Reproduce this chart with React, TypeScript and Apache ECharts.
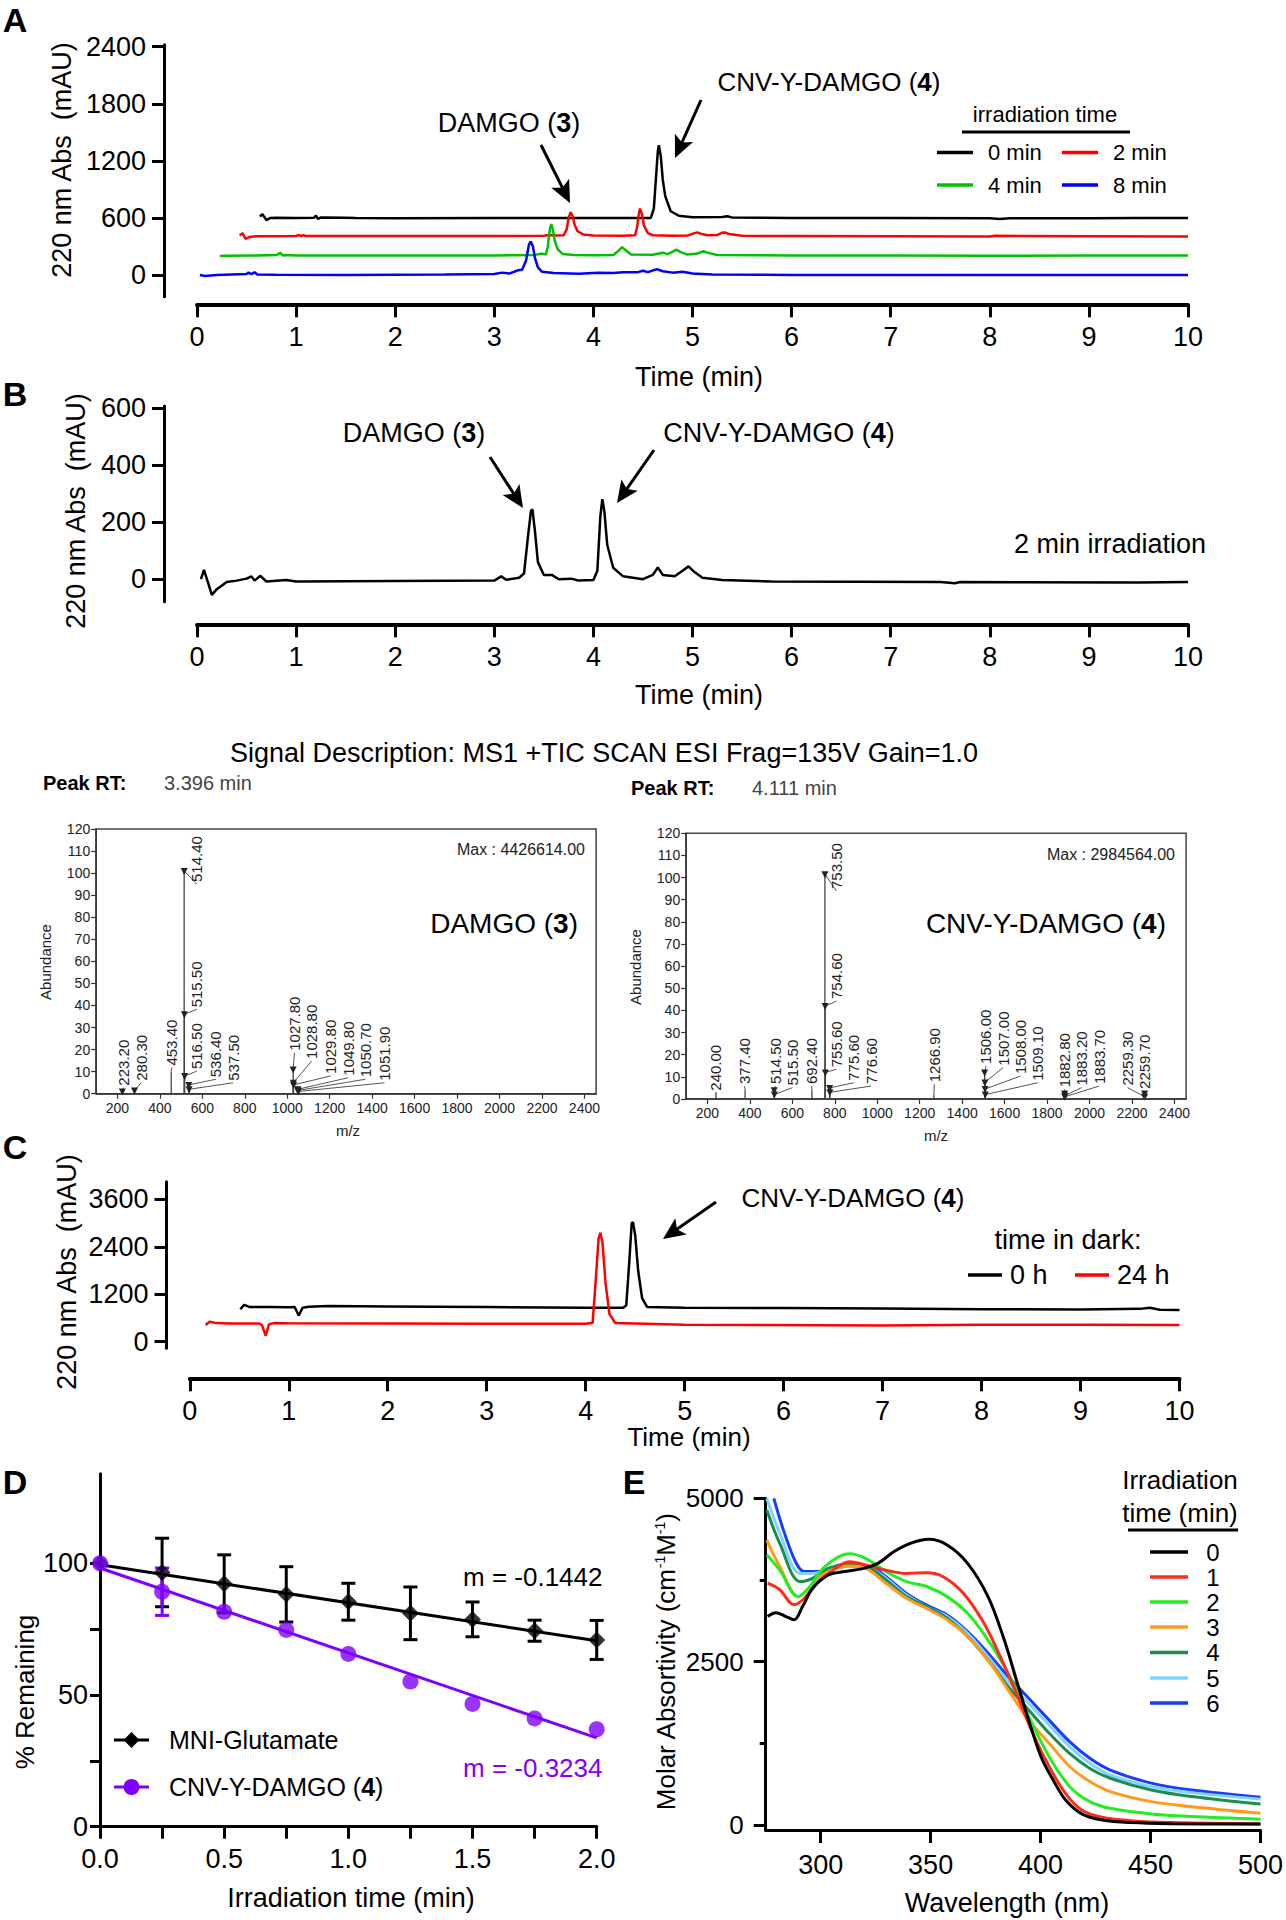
import React, { useEffect, useRef } from 'react';
import * as echarts from 'echarts';

const FONT = '"Liberation Sans", Arial, Helvetica, sans-serif';
const plain = (v: number) => String(v);

// ---------------- Panel A : HPLC, irradiation series (time min, mAU) ----------------
const aYTicks = [0, 600, 1200, 1800, 2400];
const aLegendNames = ['0 min', '2 min', '4 min', '8 min'];
const aColors = ['#000000', '#ff0000', '#00c000', '#0000ff'];
const aTrace0 = [[0.635, 615], [0.66, 640], [0.7, 578], [0.74, 600], [0.8, 602], [1.0, 600], [1.18, 602], [1.2, 625], [1.22, 590], [1.25, 605], [1.5, 602], [1.6, 598], [2.0, 597], [3.0, 598], [4.0, 598], [4.58, 600], [4.61, 700], [4.63, 1000], [4.65, 1300], [4.66, 1365], [4.68, 1250], [4.7, 1000], [4.725, 830], [4.78, 670], [4.86, 624], [5.0, 608], [5.3, 610], [5.35, 618], [5.4, 605], [6.0, 600], [7.0, 598], [8.0, 596], [8.1, 590], [8.2, 597], [9.0, 596], [9.5, 598], [10.0, 598]];
const aTrace2 = [[0.43, 415], [0.46, 440], [0.49, 380], [0.53, 400], [0.6, 408], [1.0, 410], [1.03, 420], [1.05, 408], [1.07, 418], [1.1, 410], [2.0, 410], [3.0, 410], [3.5, 412], [3.55, 420], [3.6, 415], [3.7, 418], [3.73, 480], [3.75, 600], [3.77, 660], [3.79, 620], [3.81, 530], [3.84, 460], [3.9, 425], [4.0, 415], [4.3, 412], [4.42, 418], [4.44, 500], [4.46, 650], [4.47, 698], [4.49, 640], [4.51, 520], [4.55, 440], [4.6, 418], [4.8, 412], [4.95, 415], [5.02, 440], [5.05, 448], [5.08, 435], [5.15, 418], [5.25, 420], [5.3, 445], [5.33, 448], [5.37, 430], [5.5, 412], [6.0, 410], [7.0, 408], [8.0, 405], [8.05, 412], [9.0, 408], [10.0, 405]];
const aTrace4 = [[0.23, 200], [0.3, 203], [0.6, 205], [0.8, 210], [0.84, 232], [0.87, 205], [0.9, 210], [1.0, 205], [2.0, 205], [3.0, 205], [3.4, 210], [3.48, 225], [3.52, 215], [3.54, 300], [3.56, 480], [3.575, 536], [3.59, 480], [3.61, 360], [3.64, 270], [3.69, 222], [3.8, 210], [4.0, 208], [4.2, 210], [4.26, 260], [4.29, 294], [4.32, 265], [4.38, 215], [4.6, 212], [4.7, 235], [4.75, 220], [4.81, 250], [4.84, 266], [4.88, 240], [4.95, 215], [5.05, 225], [5.11, 250], [5.15, 235], [5.25, 210], [6.0, 205], [7.0, 204], [8.0, 203], [9.0, 205], [10.0, 205]];
const aTrace8 = [[0.03, 0], [0.08, -10], [0.2, 0], [0.5, 10], [0.52, 25], [0.55, 10], [0.58, 28], [0.61, 5], [0.8, 2], [1.5, 0], [2.5, 5], [3.0, 10], [3.08, 25], [3.15, 15], [3.24, 50], [3.28, 55], [3.32, 150], [3.35, 320], [3.367, 353], [3.39, 300], [3.41, 180], [3.44, 80], [3.48, 35], [3.6, 20], [3.85, 12], [4.05, 25], [4.2, 20], [4.3, 28], [4.45, 30], [4.5, 45], [4.55, 30], [4.64, 62], [4.7, 40], [4.8, 25], [4.9, 35], [5.0, 15], [5.2, 5], [6.0, 0], [8.0, 0], [10.0, 0]];

// ---------------- Panel B : HPLC, 2 min irradiation ----------------
const bYTicks = [0, 200, 400, 600];
const bTrace = [[0.04, 0], [0.07, 33], [0.1, 0], [0.15, -55], [0.2, -35], [0.3, -10], [0.4, -5], [0.5, 2], [0.55, 10], [0.58, -5], [0.64, 12], [0.7, -8], [0.9, -3], [1.0, -8], [2.0, -6], [3.0, -5], [3.07, 10], [3.12, -2], [3.25, 5], [3.3, 20], [3.34, 150], [3.37, 240], [3.385, 245], [3.41, 170], [3.44, 60], [3.5, 15], [3.58, 15], [3.65, 0], [3.78, 2], [3.85, -5], [4.0, -3], [4.04, 30], [4.07, 220], [4.09, 281], [4.11, 240], [4.14, 120], [4.2, 40], [4.3, 10], [4.5, 0], [4.6, 15], [4.65, 41], [4.7, 15], [4.82, 10], [4.9, 30], [4.96, 45], [5.02, 25], [5.1, 5], [5.3, -3], [5.8, -8], [7.5, -10], [7.65, -14], [7.7, -10], [9.5, -12], [10.0, -10]];

// ---------------- MS spectra ----------------
const msXTicks = [200, 400, 600, 800, 1000, 1200, 1400, 1600, 1800, 2000, 2200, 2400];
const msLeftMz = [223.2, 280.3, 453.4, 514.4, 515.5, 516.5, 536.4, 537.5, 1027.8, 1028.8, 1029.8, 1049.8, 1050.7, 1051.9];
const msLeftAb = [1, 1.5, 10, 101, 36, 8, 4, 2, 11, 5, 4, 2, 1.5, 1];
const msLeftMarked = [1, 1, 0, 1, 1, 1, 1, 1, 1, 1, 1, 1, 1, 1];
const msLeftLabelMz = [228, 312, 456, 574, 574, 574, 664, 745, 1034, 1115, 1205, 1287, 1368, 1458];
const msLeftLabelAb = [3.2, 5.4, 12.3, 95.5, 38.7, 10.7, 7, 5.4, 19, 15.3, 8.5, 7.7, 7, 5.4];
const msRightMz = [240.0, 377.4, 514.5, 515.5, 692.4, 753.5, 754.6, 755.6, 775.6, 776.6, 1266.9, 1506.0, 1507.0, 1508.0, 1509.1, 1882.8, 1883.2, 1883.7, 2259.3, 2259.7];
const msRightAb = [3, 4, 4, 2, 4, 101.5, 42, 12, 5, 3, 1.8, 12, 7.5, 4.5, 2, 2.5, 1.5, 1, 1, 2.5];
const msRightMarked = [0, 0, 1, 1, 0, 1, 1, 1, 1, 1, 0, 1, 1, 1, 1, 1, 1, 1, 1, 1];
const msRightLabelMz = [240, 375, 520, 601, 691, 808, 808, 808, 890, 971, 1269, 1512, 1593, 1675, 1756, 1882, 1963, 2045, 2180, 2261];
const msRightLabelAb = [3.3, 6.3, 6.3, 5.6, 6.3, 94.4, 44.7, 13.9, 7.8, 6.3, 7.1, 15.4, 14.6, 10.8, 7.8, 4.8, 5.6, 6.3, 5.6, 4.1];

// ---------------- Panel C : stability in dark ----------------
const cYTicks = [0, 1200, 2400, 3600];
const cLegendNames = ['0 h', '24 h'];
const cColors = ['#000000', '#ff0000'];
const cTrace0h = [[0.51, 820], [0.55, 930], [0.6, 880], [0.8, 875], [1.0, 870], [1.06, 880], [1.1, 660], [1.14, 860], [1.2, 885], [1.4, 900], [2.0, 890], [3.0, 875], [4.0, 860], [4.38, 860], [4.41, 920], [4.44, 2000], [4.465, 3000], [4.478, 3020], [4.5, 2700], [4.53, 1800], [4.57, 1100], [4.62, 880], [5.0, 860], [6.0, 850], [7.0, 840], [8.0, 820], [9.0, 815], [9.6, 830], [9.7, 860], [9.8, 810], [10.0, 800]];
const cTrace24h = [[0.16, 422], [0.2, 506], [0.27, 470], [0.4, 462], [0.7, 460], [0.73, 420], [0.766, 152], [0.8, 440], [0.85, 470], [1.0, 465], [2.0, 460], [3.0, 455], [4.0, 455], [4.07, 480], [4.1, 1500], [4.13, 2600], [4.149, 2757], [4.17, 2500], [4.2, 1500], [4.24, 700], [4.3, 470], [5.0, 430], [7.0, 410], [8.0, 430], [9.0, 430], [10.0, 420]];

// ---------------- Panel D : photolysis kinetics ----------------
const dTimes = [0, 0.25, 0.5, 0.75, 1.0, 1.25, 1.5, 1.75, 2.0];
const dMni = [100, 96.5, 92.2, 88.2, 85.4, 81, 78.7, 74.4, 70.9];
const dMniSd = [0, 13, 11, 10.5, 7, 10, 6.6, 4, 7.4];
const dCnv = [100, 89.2, 81.6, 74.7, 65.6, 55.1, 46.6, 41.1, 37];
const dCnvSd = [0, 9, 0, 0, 0, 0, 0, 0, 0];
const dMniFit = [[0, 99.4], [2, 70.6]];
const dCnvFit = [[0, 98.2], [2, 33.7]];
const dXTicks = [0, 0.25, 0.5, 0.75, 1.0, 1.25, 1.5, 1.75, 2.0];
const dXLabels = [0, 0.5, 1.0, 1.5, 2.0];
const dYTicks = [0, 25, 50, 75, 100];
const dYLabels = [0, 50, 100];
const dNames = ['MNI-Glutamate', 'CNV-Y-DAMGO (4)'];
const dColors = ['#000000', '#8000ff'];

// ---------------- Panel E : UV-vis spectra ----------------
const eXTicks = [300, 350, 400, 450, 500];
const eYTicks = [0, 2500, 5000];
const eYMinorTicks = [1250, 3750];
const eTimes = ['0', '1', '2', '3', '4', '5', '6'];
const eColors = ['#000000', '#ff2a1a', '#22ee22', '#ff9a1a', '#1e8c50', '#7fd4ff', '#1a3cff'];
const e0 = [[275.9, 3190], [279.6, 3250], [284.2, 3190], [287.9, 3140], [291.7, 3340], [296.3, 3620], [303.7, 3830], [311.1, 3880], [318.6, 3920], [326, 4005], [333.4, 4185], [340.8, 4310], [349.2, 4372], [357.5, 4285], [366.8, 4005], [376.1, 3495], [383.5, 2830], [389, 2220], [394.6, 1605], [400.2, 1045], [405.7, 690], [411.3, 385], [418.7, 170], [428, 77], [441, 36], [459.5, 20], [500, 15]];
const e1 = [[275.9, 3700], [281.4, 3600], [287.9, 3370], [292.6, 3470], [298.1, 3700], [305.6, 3900], [313, 4030], [320.4, 3980], [329.7, 3900], [339, 3850], [348.2, 3860], [355.7, 3800], [364.9, 3545], [374.2, 3090], [381.6, 2580], [389, 2015], [396.5, 1400], [403.9, 895], [411.3, 485], [418.7, 230], [428, 117], [441, 66], [459.5, 36], [500, 15]];
const e2 = [[275.5, 4135], [281.4, 3900], [289.8, 3495], [294.4, 3620], [301.9, 3955], [313, 4150], [320.4, 4080], [329.7, 3880], [339, 3725], [348.2, 3650], [357.5, 3495], [366.8, 3240], [376.1, 2830], [385.3, 2320], [394.6, 1660], [403.9, 1045], [413.2, 590], [422.4, 357], [431.7, 255], [450.3, 168], [468.8, 128], [500, 87]];
const e3 = [[275.5, 4360], [281.4, 3955], [289.8, 3495], [294.4, 3620], [301.9, 3850], [313, 3965], [320.4, 3930], [329.7, 3700], [339, 3470], [348.2, 3315], [357.5, 3140], [366.8, 2885], [376.1, 2525], [385.3, 2065], [394.6, 1605], [403.9, 1250], [413.2, 895], [422.4, 665], [431.7, 510], [450.3, 357], [468.8, 280], [500, 180]];
const e4 = [[275.5, 4820], [281.4, 4310], [290.7, 3725], [296.3, 3775], [303.7, 3930], [313, 3995], [322.3, 3930], [329.7, 3750], [339, 3495], [348.2, 3340], [357.5, 3165], [366.8, 2885], [376.1, 2525], [385.3, 2115], [394.6, 1760], [403.9, 1405], [413.2, 1095], [422.4, 865], [431.7, 715], [450.3, 535], [468.8, 435], [500, 320]];
const e5 = [[275.5, 5000], [281.4, 4465], [290.7, 3850], [296.3, 3850], [303.7, 3905], [313, 3955], [322.3, 3930], [329.7, 3775], [339, 3520], [348.2, 3340], [357.5, 3190], [366.8, 2935], [376.1, 2575], [385.3, 2195], [394.6, 1860], [403.9, 1530], [413.2, 1200], [422.4, 945], [431.7, 765], [450.3, 585], [468.8, 495], [500, 395]];
const e6 = [[278.7, 5000], [283.3, 4490], [288.9, 4005], [292.6, 3880], [300, 3880], [311.1, 3955], [322.3, 3955], [329.7, 3800], [339, 3545], [348.2, 3365], [357.5, 3215], [366.8, 2960], [376.1, 2630], [385.3, 2270], [394.6, 1940], [403.9, 1605], [413.2, 1275], [422.4, 1020], [431.7, 840], [450.3, 640], [468.8, 535], [500, 425]];

// ---------------- helpers ----------------
function T(text: string, x: number, y: number, o: any = {}) {
  const size = o.size || 27;
  return {
    type: 'text', x, y, rotation: o.rot || 0, z: 50, silent: true,
    style: {
      text, fontSize: size, fontFamily: FONT, fontWeight: o.bold ? 'bold' : 'normal',
      fill: o.color || '#000', align: o.align || 'center', verticalAlign: 'middle',
      rich: o.rich || {
        b: { fontSize: size, fontFamily: FONT, fontWeight: 'bold', fill: o.color || '#000' },
      },
    },
  };
}
function L(x1: number, y1: number, x2: number, y2: number, color = '#000', w = 3) {
  return { type: 'line', z: 50, silent: true, shape: { x1, y1, x2, y2 }, style: { stroke: color, lineWidth: w } };
}
function arrow(x1: number, y1: number, x2: number, y2: number) {
  const dx = x2 - x1, dy = y2 - y1;
  const len = Math.hypot(dx, dy);
  const ux = dx / len, uy = dy / len;
  const hl = 22, hw = 10;
  const bx = x2 - ux * hl, by = y2 - uy * hl;
  const px = -uy, py = ux;
  return [
    L(x1, y1, bx + ux * 6, by + uy * 6, '#000', 3),
    {
      type: 'polygon', z: 50, silent: true,
      shape: { points: [[x2, y2], [bx + px * hw, by + py * hw], [bx + ux * 5, by + uy * 5], [bx - px * hw, by - py * hw]] },
      style: { fill: '#000' },
    },
  ];
}

const chromX = (gridIndex: number, offset: number) => ({
  type: 'value', gridIndex, min: 0, max: 10, interval: 1, position: 'bottom', offset,
  axisLine: { show: true, onZero: false, lineStyle: { color: '#000', width: 4 } },
  axisTick: { show: true, length: 13, lineStyle: { color: '#000', width: 3 } },
  axisLabel: { fontSize: 27, fontFamily: FONT, color: '#000', margin: 19, formatter: plain },
  splitLine: { show: false },
});
const chromY = (gridIndex: number, min: number, max: number, ticks: number[], offset: number) => ({
  type: 'value', gridIndex, min, max, position: 'left', offset,
  axisLine: { show: true, onZero: false, lineStyle: { color: '#000', width: 3 } },
  axisTick: { show: true, length: 12, customValues: ticks, lineStyle: { color: '#000', width: 3 } },
  axisLabel: { customValues: ticks, fontSize: 27, fontFamily: FONT, color: '#000', margin: 18, formatter: plain },
  splitLine: { show: false },
});
const msX = (gridIndex: number) => ({
  type: 'value', gridIndex, min: 100, max: 2455, position: 'bottom',
  axisLine: { show: true, onZero: false, lineStyle: { color: '#333', width: 1.5 } },
  axisTick: { show: true, length: 5, customValues: msXTicks, lineStyle: { color: '#333', width: 1.2 } },
  axisLabel: { customValues: msXTicks, fontSize: 14, fontFamily: FONT, color: '#222', margin: 7, formatter: plain },
  splitLine: { show: false },
});
const msY = (gridIndex: number) => ({
  type: 'value', gridIndex, min: 0, max: 120, interval: 10, position: 'left',
  axisLine: { show: true, onZero: false, lineStyle: { color: '#333', width: 1.5 } },
  axisTick: { show: true, length: 5, lineStyle: { color: '#333', width: 1.2 } },
  axisLabel: { fontSize: 14, fontFamily: FONT, color: '#222', margin: 6, formatter: plain },
  splitLine: { show: false },
});

function msSeries(xi: number, mz: number[], ab: number[], lmz: number[], lab: number[], marked: number[]) {
  return {
    type: 'custom', xAxisIndex: xi, yAxisIndex: xi, clip: false, silent: true,
    encode: { x: 0, y: 1 },
    data: mz.map((m, i) => [m, ab[i], lmz[i], lab[i], marked[i]]),
    renderItem: (params: any, api: any) => {
      const m = api.value(0), a = api.value(1), lx = api.value(2), ly = api.value(3), mk = api.value(4);
      const base = api.coord([m, 0]);
      const top = api.coord([m, a]);
      const lp = api.coord([lx, ly]);
      const children: any[] = [
        { type: 'line', shape: { x1: base[0], y1: base[1], x2: top[0], y2: top[1] }, style: { stroke: '#444', lineWidth: 1.3 } },
        { type: 'line', shape: { x1: top[0], y1: top[1], x2: lp[0], y2: lp[1] + 1 }, style: { stroke: '#555', lineWidth: 1 } },
        {
          type: 'text', x: lp[0], y: lp[1] - 1, rotation: Math.PI / 2,
          style: { text: m.toFixed(2), fontSize: 15, fontFamily: FONT, fill: '#222', align: 'left', verticalAlign: 'middle' },
        },
      ];
      if (mk) {
        children.push({
          type: 'polygon',
          shape: { points: [[top[0] - 3.5, top[1] - 3], [top[0] + 3.5, top[1] - 3], [top[0], top[1] + 4]] },
          style: { fill: '#222' },
        });
      }
      return { type: 'group', children };
    },
  };
}

function errSeries(mean: number[], sd: number[], color: string) {
  return {
    type: 'custom', xAxisIndex: 5, yAxisIndex: 5, silent: true, z: 3,
    encode: { x: 0, y: [1, 2] },
    data: dTimes.map((t, i) => [t, mean[i] - sd[i], mean[i] + sd[i], sd[i]]),
    renderItem: (params: any, api: any) => {
      if (!api.value(3)) return { type: 'group', children: [] };
      const x = api.value(0);
      const lo = api.coord([x, api.value(1)]);
      const hi = api.coord([x, api.value(2)]);
      const w = 7;
      const st = { stroke: color, lineWidth: 3 };
      return {
        type: 'group',
        children: [
          { type: 'line', shape: { x1: hi[0], y1: hi[1], x2: lo[0], y2: lo[1] }, style: st },
          { type: 'line', shape: { x1: hi[0] - w, y1: hi[1], x2: hi[0] + w, y2: hi[1] }, style: st },
          { type: 'line', shape: { x1: lo[0] - w, y1: lo[1], x2: lo[0] + w, y2: lo[1] }, style: st },
        ],
      };
    },
  };
}

function buildOption() {
  const gfx: any[] = [];
  // panel letters
  [['A', 15, 20], ['B', 15, 394], ['C', 15, 1147], ['D', 15, 1482], ['E', 634, 1482]].forEach(([s, x, y]: any) =>
    gfx.push(T(s, x, y, { size: 34, bold: true })));

  // ---- A ----
  gfx.push(T('220 nm Abs  (mAU)', 62, 160, { rot: Math.PI / 2, size: 27 }));
  gfx.push(T('Time (min)', 699, 377, { size: 27 }));
  gfx.push(T('DAMGO ({b|3})', 509, 123, { size: 27 }));
  gfx.push(...arrow(541, 145, 570, 203));
  gfx.push(T('CNV-Y-DAMGO ({b|4})', 829, 82, { size: 26 }));
  gfx.push(...arrow(701, 100, 675, 158));
  gfx.push(T('irradiation time', 1045, 114, { size: 22 }));
  gfx.push(L(962, 132, 1130, 132, '#000', 3));
  const aLegPos = [[937, 152.5], [1062, 152.5], [937, 185], [1062, 185]];
  aLegendNames.forEach((n, i) => {
    const [x, y] = aLegPos[i];
    gfx.push(L(x, y, x + 36, y, aColors[i], 3.5));
    gfx.push(T(n, x + 51, y, { size: 22, align: 'left' }));
  });

  // ---- B ----
  gfx.push(T('220 nm Abs  (mAU)', 76, 511, { rot: Math.PI / 2, size: 27 }));
  gfx.push(T('Time (min)', 699, 695, { size: 27 }));
  gfx.push(T('DAMGO ({b|3})', 414, 433, { size: 27 }));
  gfx.push(...arrow(490, 457, 523, 508));
  gfx.push(T('CNV-Y-DAMGO ({b|4})', 779, 433, { size: 27 }));
  gfx.push(...arrow(654, 450, 617, 503));
  gfx.push(T('2 min irradiation', 1110, 544, { size: 27 }));

  // ---- MS ----
  gfx.push(T('Signal Description: MS1 +TIC SCAN ESI Frag=135V Gain=1.0', 604, 753, { size: 27 }));
  gfx.push(T('Peak RT:', 43, 783, { size: 20, bold: true, align: 'left' }));
  gfx.push(T('3.396 min', 164, 783, { size: 20, align: 'left', color: '#444' }));
  gfx.push(T('Peak RT:', 631, 788, { size: 20, bold: true, align: 'left' }));
  gfx.push(T('4.111 min', 752, 788, { size: 20, align: 'left', color: '#444' }));
  gfx.push(T('Max : 4426614.00', 585, 849, { size: 16, align: 'right', color: '#222' }));
  gfx.push(T('DAMGO ({b|3})', 578, 923, { size: 28, align: 'right' }));
  gfx.push(T('Max : 2984564.00', 1175, 854, { size: 16, align: 'right', color: '#222' }));
  gfx.push(T('CNV-Y-DAMGO ({b|4})', 1166, 923, { size: 28, align: 'right' }));
  gfx.push(T('Abundance', 45, 962, { rot: Math.PI / 2, size: 15, color: '#222' }));
  gfx.push(T('Abundance', 635, 967, { rot: Math.PI / 2, size: 15, color: '#222' }));
  gfx.push(T('m/z', 348, 1130, { size: 15, color: '#222' }));
  gfx.push(T('m/z', 936, 1135, { size: 15, color: '#222' }));

  // ---- C ----
  gfx.push(T('220 nm Abs  (mAU)', 67, 1272, { rot: Math.PI / 2, size: 27 }));
  gfx.push(T('Time (min)', 689, 1437, { size: 26 }));
  gfx.push(T('CNV-Y-DAMGO ({b|4})', 853, 1198, { size: 26 }));
  gfx.push(...arrow(716, 1202, 663, 1239));
  gfx.push(T('time in dark:', 1068, 1240, { size: 27 }));
  const cLegPos = [[968, 1275], [1075, 1275]];
  cLegendNames.forEach((n, i) => {
    const [x, y] = cLegPos[i];
    gfx.push(L(x, y, x + 34, y, cColors[i], 3.5));
    gfx.push(T(n, x + 42, y, { size: 27, align: 'left' }));
  });

  // ---- D ----
  gfx.push(T('% Remaining', 25, 1692, { rot: Math.PI / 2, size: 26 }));
  gfx.push(T('Irradiation time (min)', 351, 1898, { size: 27 }));
  gfx.push(T('m = -0.1442', 463, 1577, { size: 26, align: 'left' }));
  gfx.push(T('m = -0.3234', 463, 1768, { size: 26, align: 'left', color: dColors[1] }));
  const dLegY = [1740, 1787];
  gfx.push(L(114, dLegY[0], 149, dLegY[0], dColors[0], 3));
  gfx.push({ type: 'polygon', z: 51, silent: true, shape: { points: [[131.5, dLegY[0] - 8], [139.5, dLegY[0]], [131.5, dLegY[0] + 8], [123.5, dLegY[0]]] }, style: { fill: dColors[0] } });
  gfx.push(T(dNames[0], 169, dLegY[0], { size: 25, align: 'left' }));
  gfx.push(L(114, dLegY[1], 149, dLegY[1], dColors[1], 3));
  gfx.push({ type: 'circle', z: 51, silent: true, shape: { cx: 131.5, cy: dLegY[1], r: 8 }, style: { fill: dColors[1] } });
  gfx.push(T('CNV-Y-DAMGO ({b|4})', 169, dLegY[1], { size: 25, align: 'left' }));

  // ---- E ----
  gfx.push(T('Molar Absortivity (cm{s|-1}M{s|-1})', 666, 1662, {
    rot: Math.PI / 2, size: 26,
    rich: { s: { fontSize: 14, fontFamily: FONT, fill: '#000', verticalAlign: 'top', padding: [0, 0, 10, 0] } },
  }));
  gfx.push(T('Wavelength (nm)', 1007, 1903, { size: 27 }));
  gfx.push(T('Irradiation', 1180, 1480, { size: 26 }));
  gfx.push(T('time (min)', 1180, 1513, { size: 26 }));
  gfx.push(L(1128, 1530, 1238, 1530, '#000', 3));
  const eLegY = [1552, 1577, 1602, 1627, 1652.5, 1678, 1703];
  eTimes.forEach((n, i) => {
    gfx.push(L(1150, eLegY[i], 1188, eLegY[i], eColors[i], 3.5));
    gfx.push(T(n, 1213, eLegY[i], { size: 24 }));
  });

  const lineS = (xi: number, data: number[][], color: string, width = 2.5, smooth: any = false) => ({
    type: 'line', xAxisIndex: xi, yAxisIndex: xi, data, showSymbol: false, symbol: 'none',
    smooth, lineStyle: { color, width }, silent: true,
  });

  const series: any[] = [
    ...[aTrace0, aTrace2, aTrace4, aTrace8].map((d, i) => lineS(0, d, aColors[i], 2.5)),
    lineS(1, bTrace, '#000', 2.5),
    msSeries(2, msLeftMz, msLeftAb, msLeftLabelMz, msLeftLabelAb, msLeftMarked),
    msSeries(3, msRightMz, msRightAb, msRightLabelMz, msRightLabelAb, msRightMarked),
    lineS(4, cTrace0h, cColors[0], 2.5),
    lineS(4, cTrace24h, cColors[1], 2.5),
    { ...lineS(5, dMniFit, dColors[0], 3), z: 2 },
    { ...lineS(5, dCnvFit, dColors[1], 3), z: 2 },
    errSeries(dMni, dMniSd, dColors[0]),
    errSeries(dCnv, dCnvSd, dColors[1]),
    {
      type: 'scatter', xAxisIndex: 5, yAxisIndex: 5, symbol: 'diamond', symbolSize: 17, z: 4, silent: true,
      itemStyle: { color: dColors[0] }, data: dTimes.map((t, i) => [t, dMni[i]]),
    },
    {
      type: 'scatter', xAxisIndex: 5, yAxisIndex: 5, symbol: 'circle', symbolSize: 16, z: 4, silent: true,
      itemStyle: { color: dColors[1] }, data: dTimes.map((t, i) => [t, dCnv[i]]),
    },
    ...[e6, e5, e4, e3, e2, e1, e0].map((d, k) => lineS(6, d, eColors[6 - k], 3, 0.35)),
  ];

  return {
    animation: false,
    backgroundColor: '#ffffff',
    textStyle: { fontFamily: FONT },
    grid: [
      { left: 197, top: 44.8, width: 991, height: 251.9 },
      { left: 197, top: 406, width: 991, height: 195.7 },
      { left: 96.2, top: 829, width: 499.9, height: 264.7, show: true, borderColor: '#444', borderWidth: 1.5 },
      { left: 686.2, top: 833.3, width: 499.9, height: 265.7, show: true, borderColor: '#444', borderWidth: 1.5 },
      { left: 189.8, top: 1181.7, width: 989.7, height: 166.6 },
      { left: 100, top: 1473.7, width: 496.7, height: 353 },
      { left: 765.7, top: 1498.3, width: 499.8, height: 331.7 },
    ],
    xAxis: [
      chromX(0, 7.6),
      chromX(1, 22.6),
      msX(2),
      msX(3),
      chromX(4, 30),
      {
        type: 'value', gridIndex: 5, min: 0, max: 2, position: 'bottom',
        axisLine: { show: true, onZero: false, lineStyle: { color: '#000', width: 3 } },
        axisTick: { show: true, length: 12, customValues: dXTicks, lineStyle: { color: '#000', width: 3 } },
        axisLabel: { customValues: dXLabels, formatter: (v: number) => v.toFixed(1), fontSize: 27, fontFamily: FONT, color: '#000', margin: 19 },
        splitLine: { show: false },
      },
      {
        type: 'value', gridIndex: 6, min: 275, max: 500, position: 'bottom',
        axisLine: { show: true, onZero: false, lineStyle: { color: '#000', width: 3 } },
        axisTick: { show: true, length: 13, customValues: eXTicks, lineStyle: { color: '#000', width: 3 } },
        axisLabel: { customValues: eXTicks, fontSize: 27, fontFamily: FONT, color: '#000', margin: 21, formatter: plain },
        splitLine: { show: false },
      },
    ],
    yAxis: [
      chromY(0, -228, 2420, aYTicks, 33),
      chromY(1, -79, 608, bYTicks, 33),
      msY(2),
      msY(3),
      chromY(4, -167, 4046, cYTicks, 23.3),
      {
        type: 'value', gridIndex: 5, min: 0, max: 134, position: 'left',
        axisLine: { show: true, onZero: false, lineStyle: { color: '#000', width: 3 } },
        axisTick: { show: true, length: 10, customValues: dYTicks, lineStyle: { color: '#000', width: 3 } },
        axisLabel: { customValues: dYLabels, fontSize: 27, fontFamily: FONT, color: '#000', margin: 12, formatter: plain },
        splitLine: { show: false },
      },
      {
        type: 'value', gridIndex: 6, min: -77, max: 5000, position: 'left',
        axisLine: { show: true, onZero: false, lineStyle: { color: '#000', width: 3 } },
        axisTick: { show: true, length: 12, customValues: eYTicks, lineStyle: { color: '#000', width: 3 } },
        axisLabel: { customValues: eYTicks, fontSize: 26, fontFamily: FONT, color: '#000', margin: 22, formatter: plain },
        splitLine: { show: false },
      },
      {
        type: 'value', gridIndex: 6, min: -77, max: 5000, position: 'left',
        axisLine: { show: false, onZero: false },
        axisTick: { show: true, length: 6, customValues: eYMinorTicks, lineStyle: { color: '#000', width: 3 } },
        axisLabel: { show: false },
        splitLine: { show: false },
      },
    ],
    series,
    graphic: { elements: gfx },
  };
}

export default function App() {
  const ref = useRef<HTMLDivElement>(null);
  useEffect(() => {
    document.body.style.margin = '0';
    if (!ref.current) return;
    const chart = echarts.init(ref.current, null, { renderer: 'svg' });
    chart.setOption(buildOption() as any);
    return () => chart.dispose();
  }, []);
  return <div ref={ref} style={{ width: 1286, height: 1920, background: '#fff' }} />;
}
